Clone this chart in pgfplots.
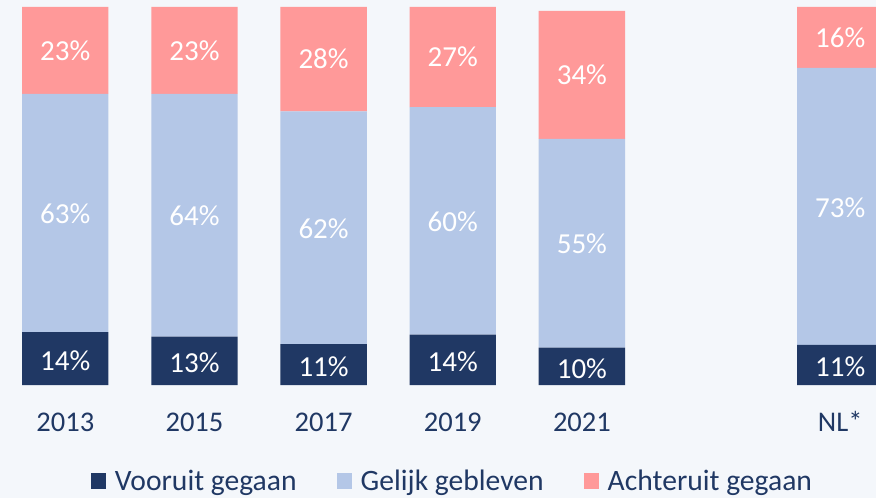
\documentclass[border=0pt]{standalone}
\usepackage{pgfplots}
\pgfplotsset{compat=1.18}
\usepackage{fontspec}
\setmainfont{Carlito}
\definecolor{navy}{HTML}{203864}
\definecolor{lblue}{HTML}{B4C7E7}
\definecolor{pinkc}{HTML}{FF9999}
\definecolor{bgc}{HTML}{F4F7FB}
\newcommand{\bigfont}{\fontsize{28.5}{34}\selectfont}
\newcommand{\legfont}{\fontsize{29.6}{35}\selectfont}
\newcommand{\labfont}{\fontsize{29}{35}\selectfont}
\begin{document}
\begin{tikzpicture}
\fill[bgc] (0pt,-113pt) rectangle (876pt,385pt);
\useasboundingbox (0pt,-113pt) rectangle (876pt,385pt);
\begin{axis}[
  scale only axis, width=876pt, height=385pt,
  xmin=-0.5056, xmax=6.2772, ymin=0, ymax=101.85,
  ybar stacked, bar width=86.4pt,
  axis line style={draw=none}, tick style={draw=none},
  ytick=\empty,
  xtick={0,1,2,3,4,6},
  xticklabels={2013,2015,2017,2019,2021,NL*},
  xticklabel style={anchor=base, yshift=-46.7pt, font=\bigfont, text=navy},
  legend style={at={(axis description cs:0.5164,-0.2500)}, anchor=center,
    draw=none, fill=none, font=\legfont, text=navy,
    /tikz/every odd column/.append style={column sep=6.5pt},
    /tikz/every even column/.append style={column sep=38pt}},
  legend columns=3,
  legend image code/.code={\fill[#1] (0pt,-7.8pt) rectangle (15.6pt,7.8pt);},
]
\addplot[fill=navy, draw=none] coordinates {(0,14.0) (1,12.8) (2,10.8) (3,13.3) (4,9.9) (6,10.6)};
\addlegendentry{Vooruit gegaan}
\addplot[fill=lblue, draw=none] coordinates {(0,63.0) (1,64.2) (2,61.6) (3,60.2) (4,55.2) (6,73.3)};
\addlegendentry{Gelijk gebleven}
\addplot[fill=pinkc, draw=none] coordinates {(0,23.0) (1,23.0) (2,27.6) (3,26.5) (4,33.9) (6,16.1)};
\addlegendentry{Achteruit gegaan}
\end{axis}
\begin{axis}[
  scale only axis, width=876pt, height=385pt,
  xmin=-0.5056, xmax=6.2772, ymin=0, ymax=101.85,
  hide axis, clip=false,
]
\addplot[draw=none, mark=none, nodes near coords, point meta=explicit symbolic,
  every node near coord/.style={anchor=center, text=white, font=\labfont}]
  coordinates {
  (0,6.4)[14\%] (0,45.2)[63\%] (0,88.5)[23\%]
  (1,5.9)[13\%] (1,44.7)[64\%] (1,88.5)[23\%]
  (2,4.9)[11\%] (2,41.4)[62\%] (2,86.2)[28\%]
  (3,6.1)[14\%] (3,43.2)[60\%] (3,86.75)[27\%]
  (4,4.4)[10\%] (4,37.3)[55\%] (4,82.0)[34\%]
  (6,4.8)[11\%] (6,47.0)[73\%] (6,91.95)[16\%]
  };
\end{axis}
\end{tikzpicture}
\end{document}
